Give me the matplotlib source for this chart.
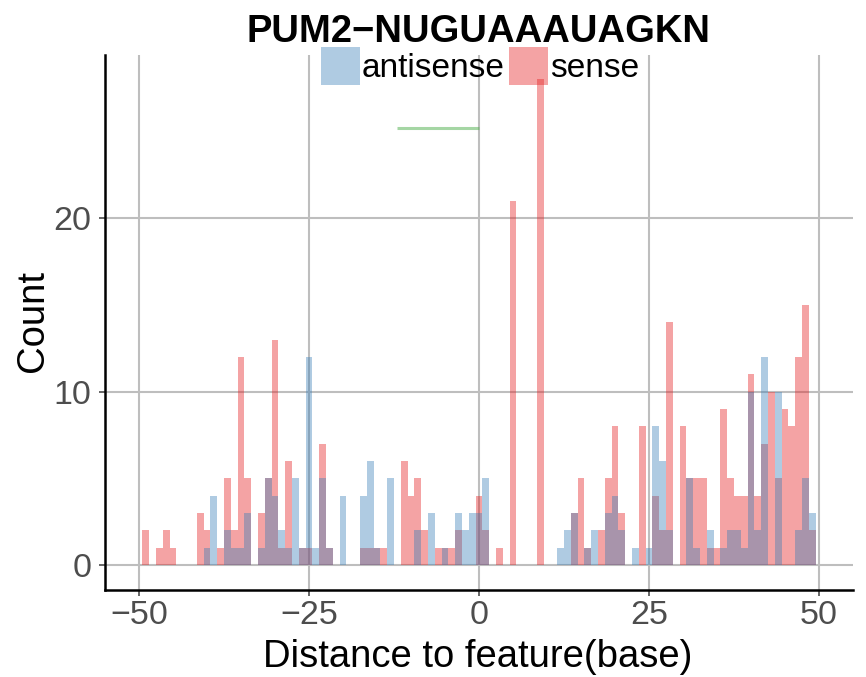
import matplotlib
matplotlib.use("Agg")
import matplotlib.pyplot as plt
from matplotlib.patches import Patch

plt.rcParams['font.family'] = ['Liberation Sans', 'DejaVu Sans']

# bin centres (distance to feature, base)
positions = list(range(-50, 51))

sense_nonzero = {
    -49: 2, -47: 1, -46: 2, -45: 1, -41: 3, -40: 2, -38: 1, -37: 5, -36: 2,
    -35: 12, -34: 5, -32: 3, -31: 5, -30: 13, -29: 1, -28: 6, -26: 1, -25: 1,
    -23: 7, -22: 1, -17: 1, -16: 1, -15: 1, -14: 1, -11: 6, -10: 4, -9: 5,
    -8: 2, -6: 1, -5: 1, -4: 1, -3: 2, 0: 4, 1: 2, 3: 1, 5: 21, 9: 28,
    14: 3, 15: 5, 16: 1, 18: 2, 19: 5, 20: 8, 21: 3, 24: 8, 26: 4, 27: 2,
    28: 14, 30: 8, 31: 5, 32: 5, 33: 5, 34: 1, 35: 1, 36: 9, 37: 5, 38: 4,
    39: 4, 40: 11, 41: 4, 42: 7, 43: 10, 44: 5, 45: 9, 46: 8, 47: 12,
    48: 15, 49: 2,
}
antisense_nonzero = {
    -40: 1, -39: 4, -37: 2, -36: 1, -35: 1, -34: 3, -32: 1, -31: 5, -30: 4,
    -29: 2, -28: 1, -27: 5, -26: 1, -25: 12, -24: 1, -23: 5, -22: 1, -20: 4,
    -17: 4, -16: 6, -15: 1, -13: 5, -9: 2, -7: 3, -5: 1, -3: 3, -2: 2,
    -1: 3, 0: 3, 1: 5, 12: 1, 13: 2, 14: 3, 16: 1, 17: 2, 19: 3, 20: 4,
    21: 2, 23: 1, 25: 1, 26: 8, 27: 6, 28: 2, 31: 5, 32: 1, 34: 2, 36: 1,
    37: 2, 38: 2, 39: 1, 40: 10, 41: 2, 42: 12, 44: 10, 47: 2, 48: 5, 49: 3,
}
sense_counts = [sense_nonzero.get(p, 0) for p in positions]
antisense_counts = [antisense_nonzero.get(p, 0) for p in positions]

feature_start = -12
feature_end = 0

title = "PUM2\u2212NUGUAAAUAGKN"
series_labels = ["antisense", "sense"]
x_ticks = [-50, -25, 0, 25, 50]
y_ticks = [0, 10, 20]

blue = "#377EB8"
red = "#E41A1C"
green = "#4DAF4A"

fig = plt.figure(figsize=(8.66, 6.77), dpi=100)
ax = fig.add_axes([105 / 866, 1 - 590 / 677, (853 - 105) / 866, (590 - 55) / 677])

ax.bar(positions, sense_counts, width=1.0, color=red, alpha=0.4, linewidth=0, zorder=2)
ax.bar(positions, antisense_counts, width=1.0, color=blue, alpha=0.4, linewidth=0, zorder=3)

ymax = max(max(sense_counts), max(antisense_counts))
ax.plot([feature_start, feature_end], [ymax * 0.9, ymax * 0.9], color=green,
        alpha=0.5, linewidth=2.2, solid_capstyle='butt', zorder=4)

ax.set_xlim(-55, 55)
ax.set_ylim(-1.44, 29.4)
ax.set_xticks(x_ticks)
ax.set_yticks(y_ticks)
ax.grid(True, color="#BEBEBE", linewidth=1.5, zorder=0)
ax.set_axisbelow(True)

for s in ['top', 'right']:
    ax.spines[s].set_visible(False)
for s in ['left', 'bottom']:
    ax.spines[s].set_linewidth(1.8)
    ax.spines[s].set_color('black')

ax.tick_params(axis='both', colors='#4D4D4D', labelsize=24.5, length=4.3, width=1.2)
ax.tick_params(axis='y', pad=5.5)
ax.tick_params(axis='x', pad=3)

fig.text(0.553, 1 - 42 / 677, title, ha='center', va='baseline',
         fontsize=27.5, fontweight='bold')
fig.text(0.5514, 1 - 667 / 677, "Distance to feature(base)", ha='center',
         va='baseline', fontsize=27.5)
fig.text(33 / 866, 1 - 321 / 677, "Count", ha='center', va='center',
         rotation=90, fontsize=27.5)

handles = [Patch(facecolor=blue, alpha=0.4, linewidth=0),
           Patch(facecolor=red, alpha=0.4, linewidth=0)]
fig.legend(handles, series_labels, loc='center', bbox_to_anchor=(480 / 866, 1 - 66 / 677),
           ncol=2, frameon=False, fontsize=24, handlelength=1.17, handleheight=1.4,
           handletextpad=0.05, columnspacing=0.15, borderpad=0, borderaxespad=0)

fig.savefig("out.png", dpi=100)
